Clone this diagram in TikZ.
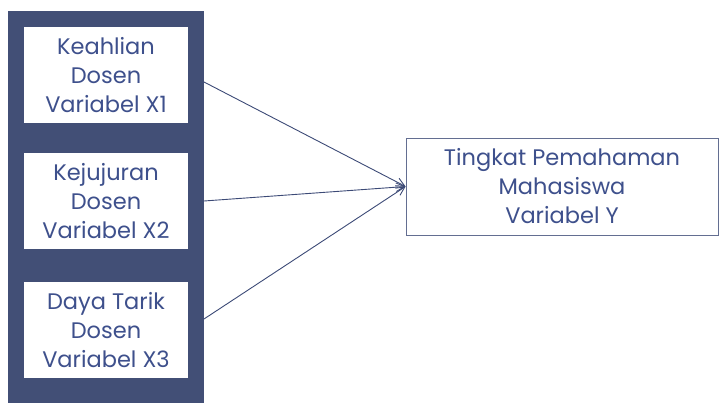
\documentclass[tikz,border=0pt]{standalone}
\usepackage{fontspec}
\setmainfont{Poppins}
\usetikzlibrary{arrows.meta}
\definecolor{panelblue}{RGB}{66,79,118}
\definecolor{textblue}{RGB}{62,80,140}
\definecolor{lineblue}{RGB}{60,74,118}

\begin{document}
\begin{tikzpicture}[x=1pt, y=-1pt, >={Straight Barb[length=3mm, width=3mm]},
	every node/.style={font=\fontsize{22.5}{29}\selectfont, text=textblue, align=center},
	varbox/.style={fill=white, inner sep=0pt, minimum width=164pt, minimum height=96pt},
	ybox/.style={draw=lineblue!80, line width=0.8pt, fill=white, inner sep=0pt, minimum width=312pt, minimum height=97pt}]
	\useasboundingbox (0,0) rectangle (720,403);
	\fill[panelblue] (8,11) rectangle (204,403);
	\node[varbox] (x1) at (106,75) {Keahlian\\Dosen\\Variabel X1};
	\node[varbox] (x2) at (106,201) {Kejujuran\\Dosen\\Variabel X2};
	\node[varbox] (x3) at (106,330) {Daya Tarik\\Dosen\\Variabel X3};
	\node[ybox] (y) at (562,186.5) {Tingkat Pemahaman\\Mahasiswa\\Variabel Y};
	\coordinate (s1) at (204,82);
	\coordinate (s2) at (204,201);
	\coordinate (s3) at (204,319);
	\foreach \s in {s1,s2,s3} {\draw[->, lineblue, line width=0.9pt] (\s) -- (y.west);}
\end{tikzpicture}
\end{document}
